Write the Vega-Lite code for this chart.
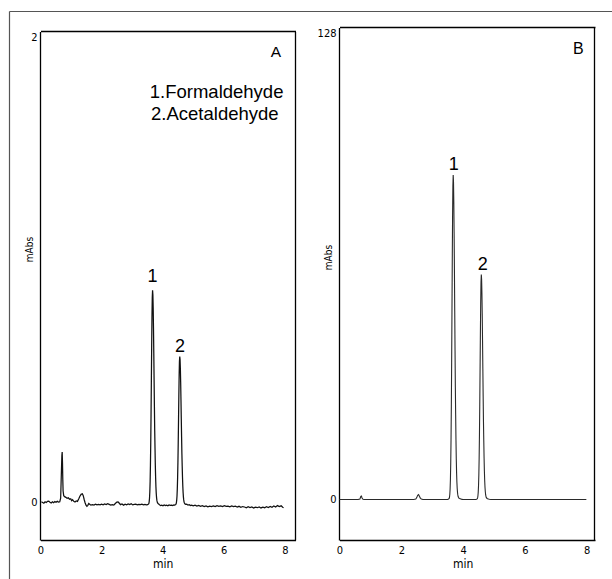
{
  "$schema": "https://vega.github.io/schema/vega-lite/v6.json",
  "width": 603,
  "height": 568,
  "autosize": "none",
  "padding": {"left": 9, "top": 11, "right": 0, "bottom": 0},
  "background": "white",
  "config": {
    "view": {"stroke": null},
    "axis": {
      "grid": false,
      "ticks": false,
      "labelFont": "Liberation Sans Narrow, DejaVu Sans Condensed, sans-serif",
      "titleFont": "Liberation Sans Narrow, DejaVu Sans Condensed, sans-serif",
      "labelColor": "#000",
      "titleColor": "#000",
      "titleFontWeight": "normal",
      "domainColor": "#000",
      "domainWidth": 1.3,
      "labelFontSize": 11,
      "labelFlush": false,
      "labelOverlap": false
    },
    "text": {"font": "Liberation Sans, Arial, sans-serif", "color": "#000"}
  },
  "datasets": {
    "traceA": [
      {"t":0.03,"v":0.004},{"t":0.07,"v":0.001},{"t":0.11,"v":-0.002},{"t":0.15,"v":0.004},{"t":0.19,"v":0.001},
      {"t":0.23,"v":0.006},{"t":0.27,"v":0.007},{"t":0.31,"v":0.002},{"t":0.35,"v":-0.001},{"t":0.39,"v":0.004},
      {"t":0.43,"v":0.0},{"t":0.47,"v":0.005},{"t":0.51,"v":0.002},{"t":0.55,"v":0.006},{"t":0.59,"v":0.003},
      {"t":0.63,"v":0.004},{"t":0.66,"v":0.02},{"t":0.68,"v":0.11},{"t":0.70,"v":0.2},{"t":0.71,"v":0.215},
      {"t":0.72,"v":0.17},{"t":0.73,"v":0.1},{"t":0.74,"v":0.05},{"t":0.76,"v":0.03},{"t":0.79,"v":0.026},
      {"t":0.83,"v":0.023},{"t":0.87,"v":0.019},{"t":0.91,"v":0.021},{"t":0.95,"v":0.015},{"t":0.99,"v":0.017},
      {"t":1.02,"v":0.009},{"t":1.05,"v":0.013},{"t":1.09,"v":0.006},{"t":1.13,"v":0.003},{"t":1.17,"v":0.008},
      {"t":1.21,"v":0.006},{"t":1.25,"v":0.016},{"t":1.29,"v":0.028},{"t":1.33,"v":0.036},{"t":1.37,"v":0.038},
      {"t":1.40,"v":0.030},{"t":1.43,"v":0.014},{"t":1.46,"v":0.0},{"t":1.49,"v":-0.010},{"t":1.52,"v":-0.015},
      {"t":1.55,"v":-0.011},{"t":1.58,"v":-0.003},{"t":1.61,"v":-0.006},{"t":1.65,"v":-0.010},{"t":1.70,"v":-0.008},
      {"t":1.75,"v":-0.010},{"t":1.80,"v":-0.006},{"t":1.85,"v":-0.009},{"t":1.90,"v":-0.007},{"t":1.95,"v":-0.009},
      {"t":2.00,"v":-0.006},{"t":2.05,"v":-0.009},{"t":2.10,"v":-0.005},{"t":2.15,"v":-0.008},{"t":2.20,"v":-0.004},
      {"t":2.25,"v":-0.007},{"t":2.30,"v":-0.010},{"t":2.35,"v":-0.008},{"t":2.40,"v":-0.010},{"t":2.45,"v":-0.003},
      {"t":2.50,"v":0.003},{"t":2.54,"v":0.004},{"t":2.58,"v":-0.002},{"t":2.62,"v":-0.008},{"t":2.67,"v":-0.005},
      {"t":2.72,"v":-0.010},{"t":2.77,"v":-0.006},{"t":2.82,"v":-0.009},{"t":2.87,"v":-0.005},{"t":2.92,"v":-0.008},
      {"t":2.97,"v":-0.004},{"t":3.02,"v":-0.009},{"t":3.07,"v":-0.007},{"t":3.12,"v":-0.006},{"t":3.17,"v":-0.009},
      {"t":3.22,"v":-0.007},{"t":3.27,"v":-0.008},{"t":3.32,"v":-0.006},{"t":3.37,"v":-0.009},{"t":3.42,"v":-0.007},
      {"t":3.47,"v":-0.009},{"t":3.51,"v":-0.008},{"t":3.54,"v":-0.005},{"t":3.55,"v":-0.002},{"t":3.56,"v":0.006},
      {"t":3.57,"v":0.020},{"t":3.58,"v":0.047},{"t":3.59,"v":0.091},{"t":3.60,"v":0.159},{"t":3.61,"v":0.254},
      {"t":3.62,"v":0.375},{"t":3.63,"v":0.515},{"t":3.64,"v":0.658},{"t":3.65,"v":0.785},{"t":3.66,"v":0.871},
      {"t":3.67,"v":0.902},{"t":3.68,"v":0.883},{"t":3.69,"v":0.826},{"t":3.70,"v":0.741},{"t":3.71,"v":0.635},
      {"t":3.72,"v":0.521},{"t":3.73,"v":0.409},{"t":3.74,"v":0.306},{"t":3.75,"v":0.230},{"t":3.76,"v":0.159},
      {"t":3.77,"v":0.106},{"t":3.78,"v":0.067},{"t":3.79,"v":0.040},{"t":3.80,"v":0.023},{"t":3.81,"v":0.011},
      {"t":3.82,"v":0.005},{"t":3.83,"v":0.0},{"t":3.85,"v":-0.003},{"t":3.87,"v":-0.005},{"t":3.90,"v":-0.009},
      {"t":3.93,"v":-0.012},{"t":3.97,"v":-0.010},{"t":4.01,"v":-0.013},{"t":4.05,"v":-0.009},{"t":4.09,"v":-0.012},
      {"t":4.13,"v":-0.010},{"t":4.17,"v":-0.013},{"t":4.21,"v":-0.009},{"t":4.25,"v":-0.011},{"t":4.29,"v":-0.010},
      {"t":4.33,"v":-0.012},{"t":4.37,"v":-0.009},{"t":4.40,"v":-0.010},{"t":4.43,"v":-0.007},{"t":4.44,"v":-0.005},
      {"t":4.45,"v":0.001},{"t":4.46,"v":0.011},{"t":4.47,"v":0.029},{"t":4.48,"v":0.060},{"t":4.49,"v":0.107},
      {"t":4.50,"v":0.172},{"t":4.51,"v":0.256},{"t":4.52,"v":0.353},{"t":4.53,"v":0.452},{"t":4.54,"v":0.540},
      {"t":4.55,"v":0.600},{"t":4.56,"v":0.621},{"t":4.57,"v":0.608},{"t":4.58,"v":0.569},{"t":4.59,"v":0.510},
      {"t":4.60,"v":0.436},{"t":4.61,"v":0.357},{"t":4.62,"v":0.280},{"t":4.63,"v":0.208},{"t":4.64,"v":0.155},
      {"t":4.65,"v":0.107},{"t":4.66,"v":0.070},{"t":4.67,"v":0.043},{"t":4.68,"v":0.024},{"t":4.69,"v":0.012},
      {"t":4.70,"v":0.004},{"t":4.71,"v":0.0},{"t":4.72,"v":-0.003},{"t":4.74,"v":-0.006},{"t":4.76,"v":-0.007},
      {"t":4.79,"v":-0.006},{"t":4.83,"v":-0.010},{"t":4.87,"v":-0.008},{"t":4.91,"v":-0.012},{"t":4.95,"v":-0.010},
      {"t":5.00,"v":-0.013},{"t":5.06,"v":-0.010},{"t":5.12,"v":-0.014},{"t":5.18,"v":-0.011},{"t":5.24,"v":-0.015},
      {"t":5.30,"v":-0.012},{"t":5.36,"v":-0.016},{"t":5.42,"v":-0.013},{"t":5.48,"v":-0.017},{"t":5.54,"v":-0.014},
      {"t":5.60,"v":-0.016},{"t":5.66,"v":-0.013},{"t":5.72,"v":-0.016},{"t":5.78,"v":-0.012},{"t":5.84,"v":-0.015},
      {"t":5.90,"v":-0.013},{"t":5.96,"v":-0.016},{"t":6.02,"v":-0.012},{"t":6.08,"v":-0.015},{"t":6.14,"v":-0.014},
      {"t":6.20,"v":-0.017},{"t":6.26,"v":-0.013},{"t":6.32,"v":-0.016},{"t":6.38,"v":-0.014},{"t":6.44,"v":-0.018},
      {"t":6.50,"v":-0.015},{"t":6.56,"v":-0.019},{"t":6.62,"v":-0.016},{"t":6.68,"v":-0.018},{"t":6.74,"v":-0.021},
      {"t":6.80,"v":-0.017},{"t":6.86,"v":-0.020},{"t":6.92,"v":-0.018},{"t":6.98,"v":-0.022},{"t":7.04,"v":-0.019},
      {"t":7.10,"v":-0.021},{"t":7.16,"v":-0.018},{"t":7.22,"v":-0.022},{"t":7.28,"v":-0.019},{"t":7.34,"v":-0.021},
      {"t":7.40,"v":-0.017},{"t":7.46,"v":-0.020},{"t":7.52,"v":-0.016},{"t":7.58,"v":-0.019},{"t":7.64,"v":-0.014},
      {"t":7.70,"v":-0.018},{"t":7.76,"v":-0.012},{"t":7.82,"v":-0.016},{"t":7.88,"v":-0.013},{"t":7.93,"v":-0.019},
      {"t":7.96,"v":-0.021}
    ],
    "traceB": [
      {"t":0.00,"v":0},{"t":0.30,"v":0},{"t":0.60,"v":0},{"t":0.66,"v":0.1},{"t":0.69,"v":0.8},{"t":0.71,"v":0.9},
      {"t":0.73,"v":0.4},{"t":0.76,"v":0.05},{"t":0.80,"v":0},{"t":1.20,"v":0},{"t":1.60,"v":0},{"t":2.00,"v":0},
      {"t":2.40,"v":0},{"t":2.47,"v":0.1},{"t":2.50,"v":0.5},{"t":2.53,"v":1.1},{"t":2.56,"v":1.3},{"t":2.59,"v":0.8},
      {"t":2.62,"v":0.3},{"t":2.65,"v":0.1},{"t":2.70,"v":0},{"t":3.10,"v":0},{"t":3.50,"v":0},{"t":3.53,"v":0.1},
      {"t":3.55,"v":0.26},{"t":3.56,"v":0.60},{"t":3.57,"v":1.33},{"t":3.58,"v":2.75},{"t":3.59,"v":5.32},
      {"t":3.60,"v":9.59},{"t":3.61,"v":16.13},{"t":3.62,"v":25.30},{"t":3.63,"v":37.05},{"t":3.64,"v":50.60},
      {"t":3.65,"v":64.42},{"t":3.66,"v":76.65},{"t":3.67,"v":85.01},{"t":3.68,"v":88.0},{"t":3.69,"v":86.15},
      {"t":3.70,"v":80.70},{"t":3.71,"v":72.42},{"t":3.72,"v":62.22},{"t":3.73,"v":51.13},{"t":3.74,"v":40.30},
      {"t":3.75,"v":30.36},{"t":3.76,"v":22.97},{"t":3.77,"v":16.19},{"t":3.78,"v":11.00},{"t":3.79,"v":7.22},
      {"t":3.80,"v":4.66},{"t":3.81,"v":2.99},{"t":3.82,"v":1.85},{"t":3.83,"v":1.23},{"t":3.84,"v":0.79},
      {"t":3.86,"v":0.44},{"t":3.88,"v":0.26},{"t":3.91,"v":0.18},{"t":3.94,"v":0.09},{"t":3.98,"v":0.03},
      {"t":4.05,"v":0},{"t":4.20,"v":0},{"t":4.40,"v":0},{"t":4.44,"v":0.05},
      {"t":4.46,"v":0.18},{"t":4.47,"v":0.41},{"t":4.48,"v":0.92},{"t":4.49,"v":1.91},{"t":4.50,"v":3.69},
      {"t":4.51,"v":6.65},{"t":4.52,"v":11.18},{"t":4.53,"v":17.54},{"t":4.54,"v":25.68},{"t":4.55,"v":35.08},
      {"t":4.56,"v":44.65},{"t":4.57,"v":53.13},{"t":4.58,"v":58.93},{"t":4.59,"v":61.0},{"t":4.60,"v":59.72},
      {"t":4.61,"v":55.94},{"t":4.62,"v":50.20},{"t":4.63,"v":43.13},{"t":4.64,"v":35.44},{"t":4.65,"v":27.94},
      {"t":4.66,"v":21.05},{"t":4.67,"v":15.92},{"t":4.68,"v":11.22},{"t":4.69,"v":7.63},{"t":4.70,"v":5.00},
      {"t":4.71,"v":3.23},{"t":4.72,"v":2.07},{"t":4.73,"v":1.28},{"t":4.74,"v":0.85},{"t":4.75,"v":0.55},
      {"t":4.77,"v":0.31},{"t":4.79,"v":0.18},{"t":4.82,"v":0.12},{"t":4.85,"v":0.06},{"t":4.90,"v":0},
      {"t":5.40,"v":0},{"t":6.00,"v":0},{"t":6.60,"v":0},{"t":7.20,"v":0},{"t":7.80,"v":0},{"t":7.99,"v":0}
    ],
    "peaksA": [{"t":3.664,"v":0.938,"label":"1"},{"t":4.568,"v":0.641,"label":"2"}],
    "letterA": [{"t":7.705,"v":1.893,"label":"A"}],
    "legendA": [{"t":3.578,"v":1.716,"label":"1.Formaldehyde"},{"t":3.62,"v":1.624,"label":"2.Acetaldehyde"}],
    "peaksB": [{"t":3.696,"v":89.4,"label":"1"},{"t":4.634,"v":62.3,"label":"2"}],
    "letterB": [{"t":7.73,"v":120.8,"label":"B"}]
  },
  "resolve": {
    "scale": {"x": "independent", "y": "independent"},
    "axis": {"x": "independent", "y": "independent"}
  },
  "layer": [
    {
      "data": {"name": "letterA"},
      "mark": {"type": "text", "opacity": 0},
      "encoding": {
        "x": {"field": "t", "type": "quantitative", "scale": {"domain": [0, 10], "range": [0, 603], "nice": false, "zero": false},
              "axis": {"orient": "top", "offset": 0, "labels": false, "title": null, "domainColor": "#555", "domainWidth": 1}},
        "y": {"field": "v", "type": "quantitative", "scale": {"domain": [0, 2], "range": [568, 0], "nice": false, "zero": false},
              "axis": {"orient": "left", "offset": 0, "labels": false, "title": null, "domainColor": "#555", "domainWidth": 1.2}},
        "text": {"field": "label"}
      }
    },
    {
      "resolve": {"scale": {"x": "shared", "y": "shared"}, "axis": {"x": "independent", "y": "independent"}},
      "layer": [
        {
          "data": {"name": "traceA"},
          "mark": {"type": "line", "stroke": "#111", "strokeWidth": 1.25},
          "encoding": {
            "x": {"field": "t", "type": "quantitative",
                  "scale": {"domain": [0, 8.35], "range": [31.5, 286.5], "nice": false, "zero": false},
                  "axis": {"orient": "bottom", "offset": -39, "values": [0, 2, 4, 6, 8], "labelPadding": 4,
                           "title": "min", "titleFontSize": 12, "titleX": 153.7, "titleY": 27, "titleBaseline": "alphabetic"}},
            "y": {"field": "v", "type": "quantitative",
                  "scale": {"domain": [-0.158, 2], "range": [529, 20.5], "nice": false, "zero": false},
                  "axis": {"orient": "left", "offset": -31, "values": [0, 2], "labelPadding": 3,
                           "labelBaseline": {"condition": {"test": "datum.value == 2", "value": "top"}, "value": "middle"},
                           "title": "mAbs", "titleFontSize": 10, "titleX": -7.5, "titleY": 238, "titleAngle": 270, "titleBaseline": "alphabetic"}}
          }
        },
        {
          "data": {"name": "peaksA"},
          "mark": {"type": "text", "fontSize": 18, "align": "center", "baseline": "alphabetic"},
          "encoding": {
            "x": {"field": "t", "type": "quantitative",
                  "scale": {"domain": [0, 8.35], "range": [31.5, 286.5], "nice": false, "zero": false},
                  "axis": {"orient": "top", "offset": -20, "labels": false, "title": null}},
            "y": {"field": "v", "type": "quantitative",
                  "scale": {"domain": [-0.158, 2], "range": [529, 20.5], "nice": false, "zero": false},
                  "axis": {"orient": "right", "offset": -317, "labels": false, "title": null}},
            "text": {"field": "label"}
          }
        },
        {
          "data": {"name": "letterA"},
          "mark": {"type": "text", "fontSize": 15.5, "align": "center", "baseline": "alphabetic"},
          "encoding": {
            "x": {"field": "t", "type": "quantitative", "axis": null},
            "y": {"field": "v", "type": "quantitative", "axis": null},
            "text": {"field": "label"}
          }
        },
        {
          "data": {"name": "legendA"},
          "mark": {"type": "text", "fontSize": 18.5, "align": "left", "baseline": "alphabetic"},
          "encoding": {
            "x": {"field": "t", "type": "quantitative", "axis": null},
            "y": {"field": "v", "type": "quantitative", "axis": null},
            "text": {"field": "label"}
          }
        }
      ]
    },
    {
      "resolve": {"scale": {"x": "shared", "y": "shared"}, "axis": {"x": "independent", "y": "independent"}},
      "layer": [
        {
          "data": {"name": "traceB"},
          "mark": {"type": "line", "stroke": "#2a2a2a", "strokeWidth": 1.1},
          "encoding": {
            "x": {"field": "t", "type": "quantitative",
                  "scale": {"domain": [0, 8.27], "range": [330.5, 586], "nice": false, "zero": false},
                  "axis": {"orient": "bottom", "offset": -39, "values": [0, 2, 4, 6, 8], "labelPadding": 4,
                           "title": "min", "titleFontSize": 12, "titleX": 453.7, "titleY": 27, "titleBaseline": "alphabetic"}},
            "y": {"field": "v", "type": "quantitative",
                  "scale": {"domain": [-11, 128], "range": [529, 16.5], "nice": false, "zero": false},
                  "axis": {"orient": "left", "offset": -330, "values": [0, 128], "labelPadding": 3,
                           "labelBaseline": {"condition": {"test": "datum.value == 128", "value": "top"}, "value": "middle"},
                           "title": "mAbs", "titleFontSize": 10, "titleX": -7.5, "titleY": 246, "titleAngle": 270, "titleBaseline": "alphabetic"}}
          }
        },
        {
          "data": {"name": "peaksB"},
          "mark": {"type": "text", "fontSize": 18, "align": "center", "baseline": "alphabetic"},
          "encoding": {
            "x": {"field": "t", "type": "quantitative",
                  "scale": {"domain": [0, 8.27], "range": [330.5, 586], "nice": false, "zero": false},
                  "axis": {"orient": "top", "offset": -16, "labels": false, "title": null}},
            "y": {"field": "v", "type": "quantitative",
                  "scale": {"domain": [-11, 128], "range": [529, 16.5], "nice": false, "zero": false},
                  "axis": {"orient": "right", "offset": -18, "labels": false, "title": null}},
            "text": {"field": "label"}
          }
        },
        {
          "data": {"name": "letterB"},
          "mark": {"type": "text", "fontSize": 16, "align": "center", "baseline": "alphabetic"},
          "encoding": {
            "x": {"field": "t", "type": "quantitative", "axis": null},
            "y": {"field": "v", "type": "quantitative", "axis": null},
            "text": {"field": "label"}
          }
        }
      ]
    }
  ]
}
